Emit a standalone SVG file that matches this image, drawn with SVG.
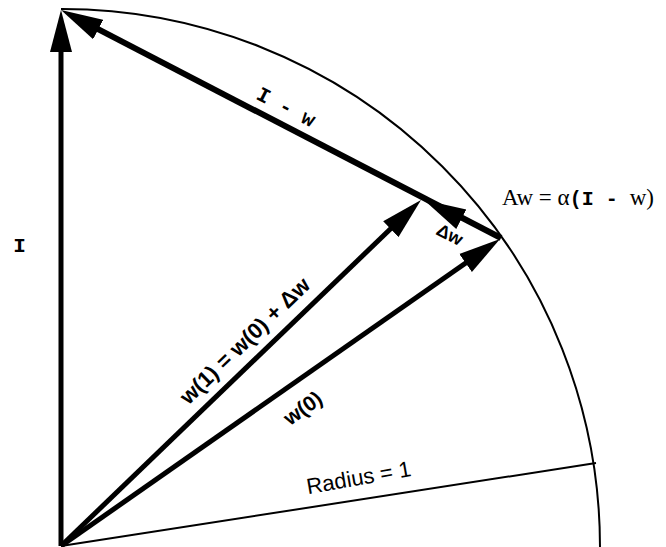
<svg xmlns="http://www.w3.org/2000/svg" width="666" height="547" viewBox="0 0 666 547">
<style>
.thick{stroke:#000;stroke-width:5;fill:none;stroke-linecap:butt}
.thin{stroke:#000;stroke-width:2;fill:none}
.mono{font-family:"Liberation Mono","Courier New",monospace;font-weight:bold;fill:#000}
.sans{font-family:"Liberation Sans",Arial,sans-serif;fill:#000}
.serif{font-family:"Liberation Serif","Times New Roman",serif;fill:#000}
</style>
<defs>
<marker id="ah" markerUnits="userSpaceOnUse" markerWidth="44" markerHeight="24" viewBox="0 0 44 24" refX="42" refY="12" orient="auto">
<path d="M0,1 L42,12 L0,23 Z" fill="#000"/>
</marker>
</defs>
<g id="arc"><path class="thin" d="M61,9 A538,538 0 0 1 600,547"/></g>
<g id="connectors">
<line class="thin" x1="61" y1="546" x2="596" y2="463"/>
<line class="thick" x1="61" y1="546" x2="61" y2="30"/>
<line x1="61" y1="60" x2="61" y2="10" stroke="none" marker-end="url(#ah)"/>
<line class="thick" style="stroke-width:6" x1="501" y1="238" x2="78.8" y2="19.2"/>
<line x1="105" y1="33" x2="61" y2="10" stroke="none" marker-end="url(#ah)"/>
<line class="thick" x1="61" y1="546" x2="483.6" y2="250.5"/>
<line x1="460" y1="267" x2="500" y2="239" stroke="none" marker-end="url(#ah)"/>
<line class="thick" x1="61" y1="546" x2="407" y2="213"/>
<line x1="390" y1="230" x2="421" y2="200" stroke="none" marker-end="url(#ah)"/>
<line x1="480" y1="229" x2="424" y2="200" stroke="none" marker-end="url(#ah)"/>
</g>
<g id="label-I"><text class="mono" x="19.5" y="252" font-size="21" text-anchor="middle">I</text></g>
<g id="label-IminusW"><text class="mono" font-size="21" text-anchor="middle" transform="translate(283,113) rotate(27.3)">I - w</text></g>
<g id="label-dw"><text class="sans" font-weight="bold" font-size="18" text-anchor="middle" transform="translate(447,240) rotate(27)">Δw</text></g>
<g id="label-eq"><text class="serif" x="502" y="205" font-size="23">Aw = α<tspan class="mono" font-size="20">(I - </tspan>w)</text></g>
<g id="label-w1"><text class="sans" font-weight="bold" font-size="22" text-anchor="middle" transform="translate(250,346) rotate(-44)">w(1) = w(0) + Δw</text></g>
<g id="label-w0"><text class="sans" font-weight="bold" font-size="21" text-anchor="middle" transform="translate(307,414) rotate(-36)">w(0)</text></g>
<g id="label-r"><text class="sans" font-size="22" text-anchor="middle" transform="translate(360,485) rotate(-10)">Radius = 1</text></g>
</svg>
